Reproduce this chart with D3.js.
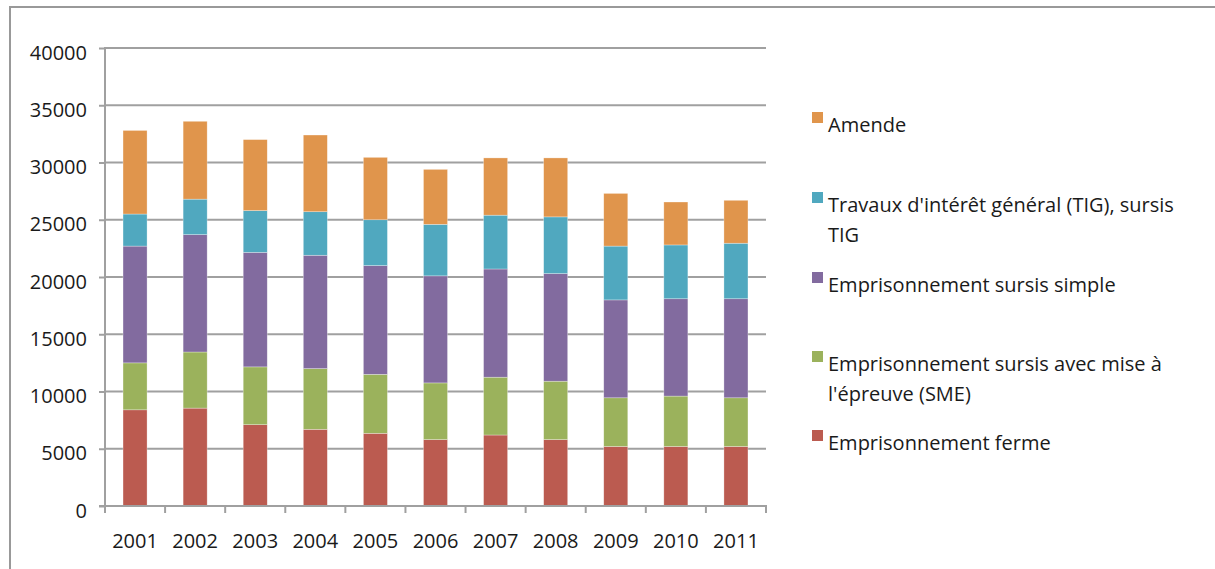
<!DOCTYPE html>
<html><head><meta charset="utf-8">
<script src="https://cdn.jsdelivr.net/npm/d3@7"></script>
<style>
body{margin:0;background:#fff;}
svg text{font-family:"Open Sans",sans-serif;fill:#1a1a1a;}
</style></head>
<body><svg id="c" width="1215" height="569"></svg>
<script>
const years = ["2001","2002","2003","2004","2005","2006","2007","2008","2009","2010","2011"];
const ferme = [8400,8550,7100,6700,6350,5800,6200,5800,5200,5200,5200];
const sme = [4100,4900,5050,5300,5150,4950,5050,5100,4250,4400,4250];
const sursisSimple = [10200,10250,10000,9900,9500,9350,9450,9400,8550,8500,8650];
const tig = [2800,3100,3650,3800,4000,4500,4700,4950,4700,4700,4850];
const amende = [7300,6800,6200,6700,5450,4800,5000,5150,4600,3750,3750];
const yTicks = [0,5000,10000,15000,20000,25000,30000,35000,40000];

const seriesKeys = ["ferme","sme","simple","tig","amende"];
const seriesNames = {
  amende:["Amende"],
  tig:["Travaux d'intérêt général (TIG), sursis","TIG"],
  simple:["Emprisonnement sursis simple"],
  sme:["Emprisonnement sursis avec mise à","l'épreuve (SME)"],
  ferme:["Emprisonnement ferme"]
};
const colors = {ferme:"#BB5B50",sme:"#9BB25C",simple:"#826B9F",tig:"#50A8BF",amende:"#E0954C"};

const table = years.map((y,i)=>({year:y,ferme:ferme[i],sme:sme[i],simple:sursisSimple[i],tig:tig[i],amende:amende[i]}));
const stacked = d3.stack().keys(seriesKeys)(table);

const svg = d3.select("#c");
// frame
svg.append("line").attr("x1",10).attr("x2",1215).attr("y1",7).attr("y2",7).attr("stroke","#999").attr("stroke-width",2);
svg.append("line").attr("x1",10).attr("x2",10).attr("y1",6).attr("y2",569).attr("stroke","#999").attr("stroke-width",2);

const x = d3.scaleBand().domain(years).range([105,766]).paddingInner(0.6).paddingOuter(0.3);
const xb = d3.scaleBand().domain(years).range([105,766]);
const y = d3.scaleLinear().domain([0,40000]).range([506,48]);

// gridlines
svg.append("g").selectAll("line").data(yTicks.filter(d=>d>0)).join("line")
  .attr("x1",105).attr("x2",766).attr("y1",d=>y(d)).attr("y2",d=>y(d))
  .attr("stroke","#A0A0A0").attr("stroke-width",2);

// bars
svg.append("g").selectAll("g").data(stacked).join("g")
  .attr("fill",d=>colors[d.key])
  .selectAll("rect").data(d=>d).join("rect")
  .attr("x",d=>x(d.data.year)).attr("width",x.bandwidth())
  .attr("y",d=>y(d[1])).attr("height",d=>y(d[0])-y(d[1]))
  .attr("stroke","rgba(255,255,255,0.5)").attr("stroke-width",0.6);

// y axis
const ya = svg.append("g").attr("transform","translate(105,0)")
  .call(d3.axisLeft(y).tickValues(yTicks).tickSize(6).tickPadding(12).tickFormat(d3.format("d")));
ya.select(".domain").attr("stroke","#A0A0A0").attr("stroke-width",2).attr("d","M0,47V507");
ya.selectAll(".tick line").attr("stroke","#A0A0A0").attr("stroke-width",2);
ya.selectAll(".tick text").attr("font-size",20).attr("dy","0.55em").attr("fill","#1a1a1a");

// x axis
const xa = svg.append("g").attr("transform","translate(0,506)");
xa.append("line").attr("x1",99).attr("x2",767).attr("stroke","#A0A0A0").attr("stroke-width",2);
xa.selectAll("line.t").data(years.concat(["end"])).join("line").attr("class","t")
  .attr("x1",(d,i)=>i<years.length?xb(d):766).attr("x2",(d,i)=>i<years.length?xb(d):766)
  .attr("y1",0).attr("y2",7).attr("stroke","#A0A0A0").attr("stroke-width",2);
xa.selectAll("text").data(years).join("text")
  .attr("x",d=>xb(d)+xb.bandwidth()/2).attr("y",42).attr("text-anchor","middle")
  .attr("font-size",20).text(d=>d);

// legend
const legendItems = [
  {key:"amende",base:132},
  {key:"tig",base:212},
  {key:"simple",base:292},
  {key:"sme",base:371},
  {key:"ferme",base:450}
];
const lg = svg.append("g");
legendItems.forEach(it=>{
  lg.append("rect").attr("x",812).attr("y",it.base-20).attr("width",11).attr("height",11).attr("fill",colors[it.key]);
  seriesNames[it.key].forEach((t,j)=>{
    lg.append("text").attr("x",828).attr("y",it.base+j*30).attr("font-size",20).text(t);
  });
});
</script></body></html>
